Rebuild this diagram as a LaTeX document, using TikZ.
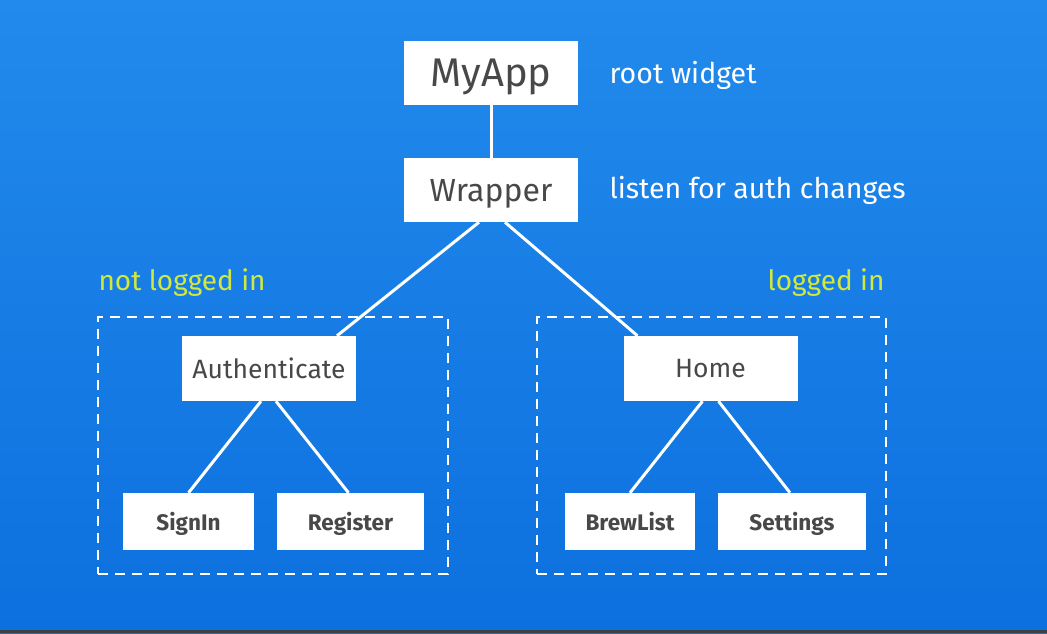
\documentclass[tikz,border=0pt]{standalone}
\usepackage{fontspec}
\setmainfont{Fira Sans}
\usepackage{xcolor}
\usetikzlibrary{positioning}

\definecolor{bgtop}{RGB}{34,138,236}
\definecolor{bgbottom}{RGB}{12,112,222}
\definecolor{boxtext}{RGB}{72,72,72}
\definecolor{tagyellow}{RGB}{208,232,64}

\begin{document}
\begin{tikzpicture}[x=1pt,y=-1pt,
    widget/.style={fill=white, text=boxtext, inner sep=0pt, text depth=0pt, minimum width=174pt, minimum height=64pt},
    leaf/.style={fill=white, text=boxtext, inner sep=0pt, text depth=0pt, minimum height=57pt, font=\fontsize{22.5}{26}\selectfont\bfseries},
    note/.style={text=white, anchor=west, font=\fontsize{28.5}{33}\selectfont},
    tag/.style={text=tagyellow, font=\fontsize{28}{33}\selectfont},
    group/.style={draw=white, line width=2.8pt, dash pattern=on 10pt off 7pt, inner sep=0pt, minimum height=257pt},
    link/.style={draw=white, line width=3pt}]

% Background
\shade[top color=bgtop, bottom color=bgbottom] (0,0) rectangle (1047,633);
\fill[black!75] (0,630) rectangle (1047,633);

% Root and wrapper
\node[widget, font=\fontsize{40}{46}\selectfont] (myapp) at (491,73) {MyApp};
\node[widget, font=\fontsize{32}{38}\selectfont] (wrapper) at (491,190) {Wrapper};
\node[note] (rootnote) at (606,75) {root widget};
\node[note] (authnote) at (606,190) {listen for auth changes};

% Dashed groups
\node[group, minimum width=350pt] (offgroup) at (273,445.5) {};
\node[group, minimum width=349pt] (ongroup) at (711.5,445.5) {};
\node[tag, anchor=west] (offtag) at (95,283) {not logged in};
\node[tag, anchor=east] (ontag) at (888,283) {logged in};

% Second level
\node[widget, minimum height=65pt, font=\fontsize{26.5}{31}\selectfont] (auth) at (269,368.5) {Authenticate};
\node[widget, minimum height=65pt, font=\fontsize{26.5}{31}\selectfont] (home) at (710.5,368.5) {Home};

% Leaves
\node[leaf, minimum width=131pt] (signin) at (188.5,521.5) {SignIn};
\node[leaf, minimum width=147pt] (register) at (350.5,521.5) {Register};
\node[leaf, minimum width=130pt] (brewlist) at (630,521.5) {BrewList};
\node[leaf, minimum width=148pt] (settings) at (792,521.5) {Settings};

% Links
\draw[link] (myapp) -- (wrapper);
\draw[link] ([xshift=-12pt]wrapper.south) -- ([xshift=68pt]auth.north);
\draw[link] ([xshift=14pt]wrapper.south) -- ([xshift=-73pt]home.north);
\draw[link] ([xshift=-8pt]auth.south) -- (signin.north);
\draw[link] ([xshift=7pt]auth.south) -- ([xshift=-2pt]register.north);
\draw[link] ([xshift=-8pt]home.south) -- (brewlist.north);
\draw[link] ([xshift=8pt]home.south) -- ([xshift=-2pt]settings.north);

\end{tikzpicture}
\end{document}
